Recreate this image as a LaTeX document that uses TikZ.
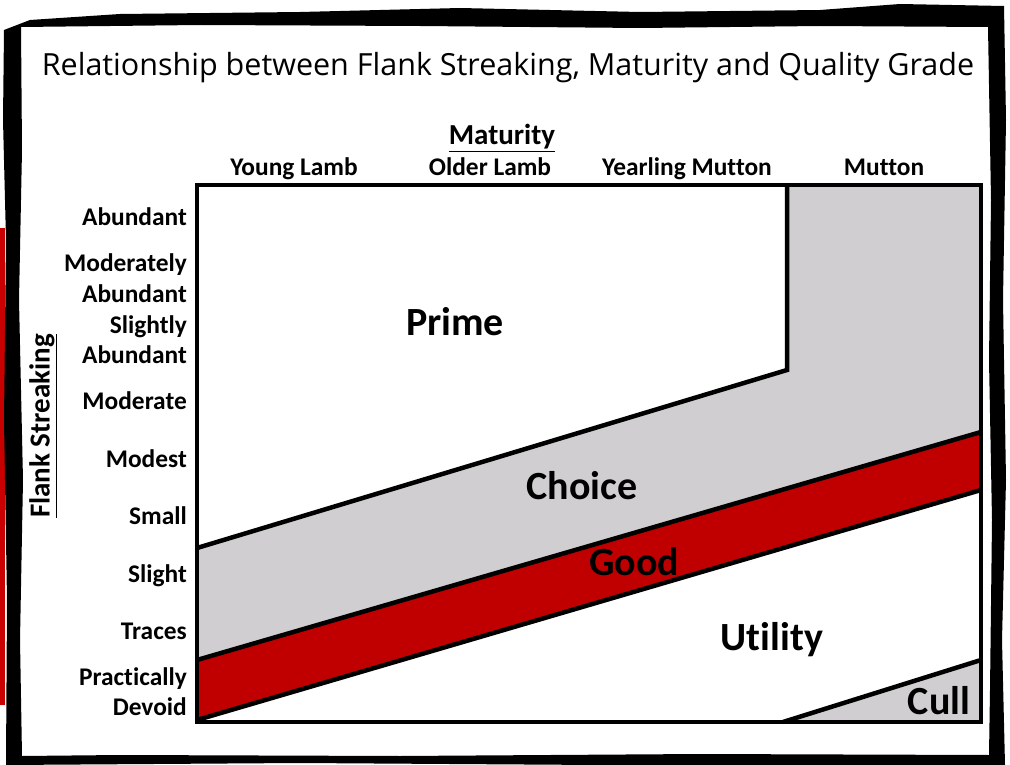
\documentclass[tikz,border=0pt]{standalone}
\usepackage{fontspec}
\setmainfont{Carlito}[Ligatures=NoCommon]
\newfontfamily\titlefont{Open Sans}
\definecolor{choicegray}{RGB}{208,206,208}
\definecolor{goodred}{RGB}{192,0,0}
\definecolor{edgered}{RGB}{200,0,0}
\begin{document}
\begin{tikzpicture}[x=1pt,y=-1pt,
  lab/.style={font=\bfseries\fontsize{25.4}{25.4}\selectfont, inner sep=0pt, text height=16.3pt, text depth=0pt},
  ylab/.style={lab, anchor=east},
  axt/.style={font=\bfseries\fontsize{29}{29}\selectfont, inner sep=0pt},
  grade/.style={font=\bfseries\fontsize{40}{40}\selectfont, inner sep=0pt, text height=25.7pt, text depth=0pt},
  bnd/.style={line width=4.5pt, line join=miter},
  ]
\useasboundingbox (0,0) rectangle (1010,765);
\fill[white] (0,0) rectangle (1010,765);
% red trace on left edge
\fill[edgered] (0,228) rectangle (5,705);
% rough frame
\fill[black, even odd rule]
  (4,30) -- (30,20) -- (120,14) -- (300,12) -- (460,8) -- (640,12) -- (820,10) -- (900,4) -- (1004,6)
  -- (1006,120) -- (1003,300) -- (1006,480) -- (1002,640) -- (1005,765) -- (600,765) -- (300,763) -- (6,765)
  -- (7,600) -- (4,420) -- (6,240) -- (3,120) -- cycle
  (21,27) -- (200,25) -- (420,26) -- (640,28) -- (820,26) -- (988,27)
  -- (991,200) -- (989,360) -- (992,520) -- (990,690) -- (989,755) -- (700,754) -- (400,756) -- (120,755) -- (22,756)
  -- (20,640) -- (23,480) -- (19,300) -- (22,150) -- cycle;
% title
\node[font=\titlefont\fontsize{30.5}{30.5}\selectfont, inner sep=0pt, text height=21.8pt, text depth=0pt] (title) at (508,65) {Relationship between Flank Streaking, Maturity and Quality Grade};
% axis titles
\node[axt] (mat) at (502,138) {\underline{Maturity}};
\node[axt, rotate=90] (flank) at (43,426) {\underline{Flank Streaking}};
% maturity labels
\node[lab] (yl) at (294,167) {Young Lamb};
\node[lab] (ol) at (490,167) {Older Lamb};
\node[lab] (ym) at (687,167) {Yearling Mutton};
\node[lab] (mu) at (884,167) {Mutton};
% flank streaking labels
\node[ylab] (s1) at (187,217) {Abundant};
\node[ylab] (s2a) at (187,263) {Moderately};
\node[ylab] (s2b) at (187,294) {Abundant};
\node[ylab] (s3a) at (187,325) {Slightly};
\node[ylab] (s3b) at (187,355) {Abundant};
\node[ylab] (s4) at (187,401) {Moderate};
\node[ylab] (s5) at (187,459) {Modest};
\node[ylab] (s6) at (187,516) {Small};
\node[ylab] (s7) at (187,574) {Slight};
\node[ylab] (s8) at (187,631) {Traces};
\node[ylab] (s9a) at (187,677) {Practically};
\node[ylab] (s9b) at (187,707) {Devoid};
% chart coordinates
\coordinate (TL) at (197,185);
\coordinate (TR) at (981,185);
\coordinate (BR) at (981,722);
\coordinate (BL) at (197,722);
\coordinate (PT) at (787,185);
\coordinate (PC) at (787,370);
\coordinate (PL) at (197,548);
\coordinate (CL) at (197,660);
\coordinate (CR) at (981,432);
\coordinate (GL) at (197,720);
\coordinate (GR) at (981,490);
\coordinate (KL) at (783,722);
\coordinate (KR) at (981,660);
% fills
\fill[white] (TL) rectangle (BR);
\fill[choicegray] (PL) -- (PC) -- (PT) -- (TR) -- (CR) -- (CL) -- cycle;
\fill[goodred] (CL) -- (CR) -- (GR) -- (GL) -- cycle;
\fill[choicegray] (KL) -- (KR) -- (BR) -- cycle;
% boundaries
\draw[bnd] (PL) -- (PC) -- (PT);
\draw[bnd] (CL) -- (CR);
\draw[bnd] (GL) -- (GR);
\draw[bnd] (KL) -- (KR);
\draw[bnd] (TL) rectangle (BR);
% grade labels
\node[grade] (prime) at (455,323) {Prime};
\node[grade] (choice) at (582,487) {Choice};
\node[grade] (good) at (634,563) {Good};
\node[grade] (utility) at (772,638) {Utility};
\node[grade] (cull) at (939,702) {Cull};
\end{tikzpicture}
\end{document}
